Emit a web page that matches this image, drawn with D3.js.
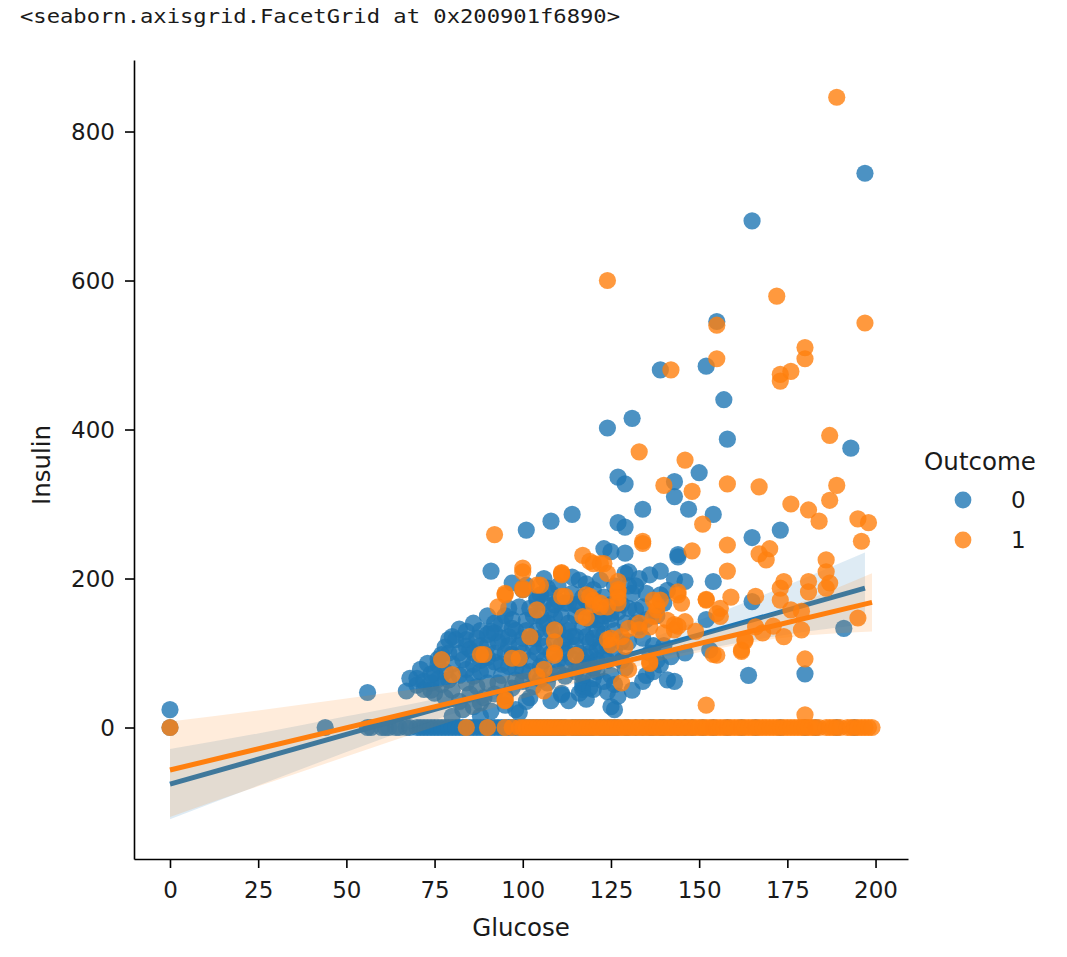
<!DOCTYPE html>
<html>
<head>
<meta charset="utf-8">
<script src="https://cdn.jsdelivr.net/npm/d3@7"></script>
<style>
  body { margin: 0; background: #fff; }
  svg text { font-family: "DejaVu Sans", sans-serif; fill: #1a1a1a; }
  .header { font-family: "DejaVu Sans Mono", monospace; }
</style>
</head>
<body>
<svg id="chart" width="1067" height="957"></svg>
<script>
const xTicks = [0, 25, 50, 75, 100, 125, 150, 175, 200];
const yTicks = [0, 200, 400, 600, 800];
const outcomes = ['0', '1'];

// Outcome 0: [glucose, insulin] where insulin > 0
const bluePoints = [
  [0,24],[56,47],[67,49],[68,66],[71,78],[72,51],[75,46],[75,73],[74,60],[77,58],[79,64],[80,15],[81,118],[82,100],
  [83,91],[83,24],[84,129],[84,118],[84,109],[84,78],[86,69],[86,28],[88,33],[90,78],[91,210],[91,129],[92,127],
  [93,115],[93,60],[96,122],[97,53],[97,145],[97,133],[97,194],[98,64],[98,24],[99,91],[99,162],[99,20],[101,265],
  [101,35],[101,191],[101,144],[103,109],[103,55],[104,174],[104,171],[106,167],[106,140],[107,187],[106,109],
  [108,277],[108,180],[108,158],[107,60],[109,149],[109,113],[111,149],[111,44],[111,46],[112,167],[112,104],
  [112,69],[112,100],[113,167],[114,286],[114,202],[114,180],[114,122],[115,122],[116,198],[116,162],[116,46],
  [116,82],[117,55],[117,51],[117,60],[118,122],[118,193],[119,53],[119,144],[120,51],[121,131],[121,104],
  [122,198],[122,158],[123,95],[124,402],[123,240],[125,236],[125,153],[125,28],[126,24],[127,336],[127,275],
  [129,327],[129,269],[129,234],[129,207],[129,140],[130,209],[131,415],[132,158],[133,135],[134,293],[134,162],
  [134,62],[136,205],[139,210],[139,480],[139,84],[139,178],[141,184],[140,167],[141,64],[143,330],[143,310],
  [143,62],[143,199],[144,232],[144,229],[146,196],[146,100],[147,293],[150,342],[152,485],[152,145],[153,104],
  [154,286],[154,196],[155,545],[157,440],[158,387],[164,70],[165,680],[165,255],[165,169],[173,265],[180,72],
  [191,133],[193,375],[197,744],
  [78,40],[80,50],[82,35],[85,45],[87,55],[89,40],[90,94],[92,88],[94,70],[95,100],[95,42],[96,82],[100,76],
  [100,120],[102,90],[104,130],[105,82],[105,120],[108,72],[110,90],[110,130],[113,140],[115,110],[117,90],
  [119,115],[120,80],[122,140],[124,110],[126,130],[128,90],[130,115],[131,180],[132,190],[135,145],[137,110],
  [138,150],[88,110],[90,150],[94,140],[96,160],[100,185],[103,150],[106,200],[110,190],[118,170],[120,185],
  [123,175],[126,190],[128,165],[85,105],[87,120],[79,100],[76,84],[92,45],[102,40],[108,36],[113,36],[118,38],
  [124,48],[127,42],[131,50],[135,70],[137,75],[125,70],[120,66],[115,75],[105,65],[95,30],[91,22],[88,15],
  [116,100],[118,95],[120,120],[122,110],[124,90],[126,105],[128,115],[121,75],[123,62],[126,58],[129,80],
  [119,85],[117,70],[114,92],[112,85],[110,75],[108,100],[106,90],[104,100],[102,75],[100,62],[98,80],[96,110],
  [94,120],[92,100],[90,110],[88,90],[86,85],[84,60],[82,70],[80,85],[78,75],[76,65],[74,50],[70,57],[86,140],
  [88,130],[90,125],[92,140],[95,150],[98,130],[100,100],[102,160],[105,178],[108,130],[110,170],[112,120],
  [115,150],[117,175],[119,160],[121,145],[123,125],[125,145],[127,155],[130,160],[132,140],[134,120],[136,100],
  [138,90],[140,110],[142,95],[135,180],[133,200],[130,190],[72,62],[74,72],[76,92],[78,108],[80,122],[82,132],
  [79,118],[77,98],[73,86],[70,66],[86,100],[88,75],[90,60],[94,85],[97,98],[99,110],[101,130],[103,120],
  [105,150],[107,140],[109,165],[111,112],[113,130],[115,165],[117,135],[119,100],[121,90],[123,150],[125,165]
];

// Outcome 0: glucose values with insulin == 0
const blueZeroGlucose = [
  0, 44, 56, 57, 60, 61, 62, 64, 65, 67, 68, 70, 71, 72, 73, 74, 75, 76, 77, 78, 79, 80, 81, 82, 83, 84, 85, 86,
  87, 88, 89, 90, 91, 92, 93, 94, 95, 96, 97, 98, 99, 100, 101, 102, 103, 104, 105, 106, 107, 108, 109, 110, 111,
  112, 114, 115, 116, 117, 118, 119, 120, 122, 123, 124, 125, 126, 127, 129, 130, 132, 134, 136, 137, 139, 140,
  142, 144, 146, 148, 151, 154, 158, 162, 166, 173, 180, 183, 189, 194
];

// Outcome 1: [glucose, insulin] where insulin > 0
const orangePoints = [
  [77,91],[80,71],[88,98],[89,98],[93,162],[92,259],[95,180],[95,178],[95,36],[95,37],[97,93],[99,93],[100,214],
  [100,209],[100,187],[100,185],[102,122],[104,158],[104,191],[105,191],[106,49],[106,78],[104,69],[109,131],
  [109,115],[109,100],[109,97],[111,208],[111,205],[111,176],[111,207],[112,176],[115,97],[117,149],[117,231],
  [118,147],[118,178],[119,176],[119,223],[120,220],[120,171],[120,165],[122,162],[122,167],[122,220],[123,220],
  [124,600],[124,207],[124,118],[124,162],[125,120],[125,111],[127,196],[127,185],[127,182],[127,174],[127,167],
  [128,122],[128,60],[129,109],[130,133],[130,78],[133,131],[133,140],[133,370],[134,250],[134,247],[136,88],
  [136,135],[136,86],[137,149],[137,171],[138,158],[138,164],[139,171],[140,325],[140,127],[141,144],[142,480],
  [143,131],[143,138],[144,136],[144,178],[144,182],[145,167],[146,359],[146,142],[148,317],[148,237],[149,129],
  [151,273],[152,172],[152,30],[152,171],[154,98],[155,540],[155,495],[155,153],[155,97],[156,160],[156,149],
  [158,327],[158,245],[158,210],[159,175],[162,102],[162,104],[163,116],[163,118],[166,176],[166,135],[167,323],
  [167,233],[168,127],[169,225],[170,240],[171,136],[172,579],[173,474],[173,465],[173,187],[173,171],[174,196],
  [174,122],[176,478],[176,300],[176,158],[179,156],[179,131],[180,510],[180,495],[180,92],[180,17],[181,292],
  [181,196],[181,182],[184,277],[186,225],[186,209],[187,392],[187,305],[187,194],[186,187],[189,846],[189,325],
  [195,280],[195,147],[196,250],[197,543],[198,275]
];

// Outcome 1: glucose values with insulin == 0
const orangeZeroGlucose = [
  0, 84, 90, 95, 97, 99, 100, 101, 102, 103, 104, 105, 106, 107, 108, 109, 110, 111, 112, 113, 114, 115, 116, 117,
  118, 119, 120, 121, 122, 123, 124, 125, 126, 127, 128, 129, 130, 131, 132, 133, 134, 135, 136, 137, 138, 139,
  140, 141, 142, 143, 144, 145, 146, 147, 148, 149, 150, 151, 152, 153, 154, 155, 156, 157, 158, 159, 160, 161,
  162, 163, 164, 165, 166, 167, 168, 169, 170, 171, 172, 173, 174, 175, 176, 177, 178, 179, 180, 181, 182, 183,
  184, 186, 187, 188, 189, 190, 192, 193, 194, 195, 196, 197, 198, 199
];

// regression fits and confidence bands
const blueFitX = [0, 197];
const blueFitY = [-76, 187];
const orangeFitX = [0, 199];
const orangeFitY = [-57, 168];

const blueBandX = [0, 25, 50, 75, 100, 125, 150, 175, 197];
const blueBandLow = [-123, -78, -33, 10, 50, 81, 104, 125, 139];
const blueBandHigh = [-29, -8, 15, 38, 66, 101, 144, 191, 235];
const orangeBandX = [0, 25, 50, 75, 100, 125, 150, 175, 199];
const orangeBandLow = [-120, -79, -39, 1, 39, 73, 101, 121, 129];
const orangeBandHigh = [8, 23, 39, 55, 73, 95, 124, 161, 207];

const COLORS = ['#1f77b4', '#ff7f0e'];

const svg = d3.select('#chart');

const x = d3.scaleLinear().domain([-10.2, 209.2]).range([134, 908]);
const y = d3.scaleLinear().domain([-176.5, 896]).range([859, 60]);

const series = [
  {pts: bluePoints, zeros: blueZeroGlucose, fx: blueFitX, fy: blueFitY,
   bx: blueBandX, lo: blueBandLow, hi: blueBandHigh, color: COLORS[0]},
  {pts: orangePoints, zeros: orangeZeroGlucose, fx: orangeFitX, fy: orangeFitY,
   bx: orangeBandX, lo: orangeBandLow, hi: orangeBandHigh, color: COLORS[1]}
];

const plot = svg.append('g');

// each hue: scatter, then band, then line (same order seaborn uses)
series.forEach(s => {
  const all = s.pts.concat(s.zeros.map(g => [g, 0]));
  plot.append('g')
    .selectAll('circle')
    .data(all)
    .join('circle')
      .attr('cx', d => x(d[0]))
      .attr('cy', d => y(d[1]))
      .attr('r', 8.6)
      .attr('fill', s.color)
      .attr('fill-opacity', 0.8);

  const band = s.bx.map((v, i) => ({x: v, lo: s.lo[i], hi: s.hi[i]}));
  plot.append('path')
    .datum(band)
    .attr('d', d3.area()
      .curve(d3.curveMonotoneX)
      .x(d => x(d.x))
      .y0(d => y(d.lo))
      .y1(d => y(d.hi)))
    .attr('fill', s.color)
    .attr('fill-opacity', 0.15);

  plot.append('path')
    .datum(s.fx.map((v, i) => [v, s.fy[i]]))
    .attr('d', d3.line().x(d => x(d[0])).y(d => y(d[1])))
    .attr('stroke', s.color)
    .attr('stroke-width', 5)
    .attr('fill', 'none');
});

// axes
const xAxis = svg.append('g')
  .attr('transform', 'translate(0,859)')
  .call(d3.axisBottom(x).tickValues(xTicks).tickSize(9).tickSizeOuter(0).tickFormat(d3.format('d')));
xAxis.selectAll('text').attr('y', 39).attr('dy', null).style('font-size', '23px');

const yAxis = svg.append('g')
  .attr('transform', 'translate(134,0)')
  .call(d3.axisLeft(y).tickValues(yTicks).tickSize(9).tickSizeOuter(0).tickPadding(10).tickFormat(d3.format('d')));
yAxis.selectAll('text').attr('dy', '0.36em').style('font-size', '23px');

svg.selectAll('.domain, .tick line').attr('stroke', '#000').attr('stroke-width', 1.6);
svg.selectAll('.tick text').style('font-family', '"DejaVu Sans", sans-serif').attr('fill', '#1a1a1a');

// axis labels
svg.append('text')
  .attr('x', 521).attr('y', 936)
  .attr('text-anchor', 'middle')
  .style('font-size', '24.5px')
  .text('Glucose');

svg.append('text')
  .attr('transform', 'translate(50,465) rotate(-90)')
  .attr('text-anchor', 'middle')
  .style('font-size', '24.5px')
  .text('Insulin');

// legend
const legend = svg.append('g');
legend.append('text')
  .attr('x', 980).attr('y', 469.5)
  .attr('text-anchor', 'middle')
  .style('font-size', '24.5px')
  .text('Outcome');
legend.selectAll('.entry')
  .data(outcomes)
  .join('g')
    .attr('class', 'entry')
    .attr('transform', (d, i) => `translate(963,${500 + i * 40})`)
    .each(function(d, i) {
      const g = d3.select(this);
      g.append('circle').attr('r', 8.4).attr('fill', COLORS[i]).attr('fill-opacity', 0.8);
      g.append('text').attr('x', 48).attr('dy', '0.36em').style('font-size', '23px').text(d);
    });

// notebook repr line above the figure
svg.append('text')
  .attr('class', 'header')
  .attr('x', 20).attr('y', 23)
  .attr('textLength', 600)
  .attr('lengthAdjust', 'spacingAndGlyphs')
  .style('font-size', '20px')
  .style('font-family', '"DejaVu Sans Mono", monospace')
  .text('<seaborn.axisgrid.FacetGrid at 0x200901f6890>');
</script>
</body>
</html>
